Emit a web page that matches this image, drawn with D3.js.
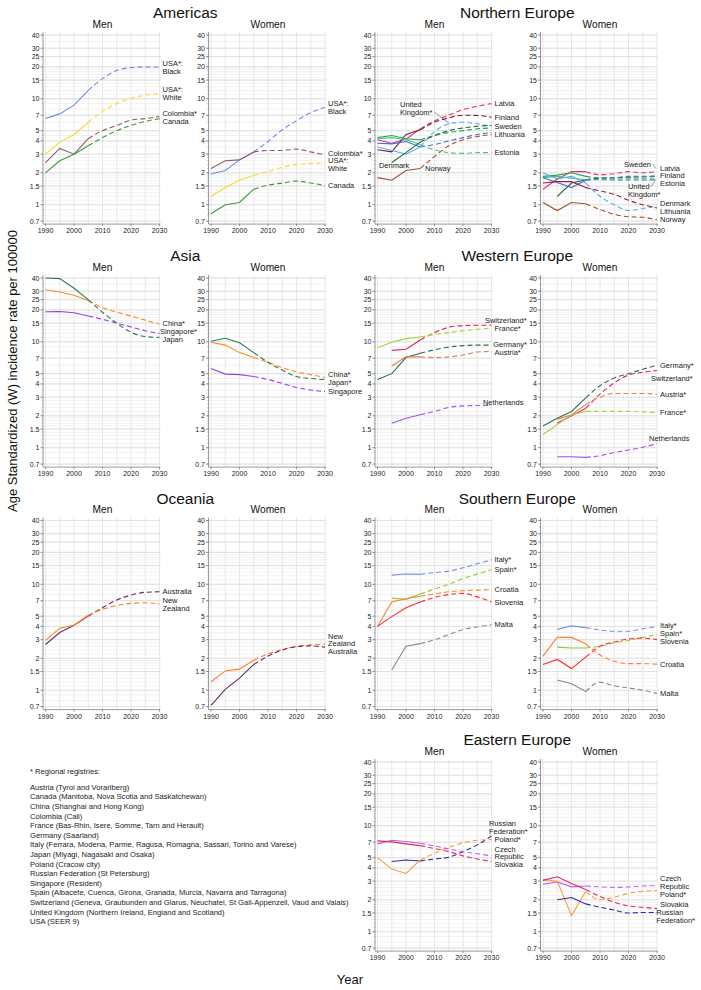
<!DOCTYPE html>
<html>
<head>
<meta charset="utf-8">
<script src="https://cdn.jsdelivr.net/npm/d3@7"></script>
<style>
  body { margin: 0; background: #fff; }
  svg { font-family: "Liberation Sans", Arial, sans-serif; }
</style>
</head>
<body>
<svg id="chart" width="701" height="990"></svg>
<script>
// ---- data ----
const years = [1990, 1995, 2000, 2005, 2010, 2015, 2020, 2025, 2030];
const xTicks = [1990, 2000, 2010, 2020, 2030];
const yTicks = [0.7, 1, 1.5, 2, 3, 4, 5, 7, 10, 15, 20, 25, 30, 40];
const observedUntil = 2005;

const americasMen = [
  { key: "usaBlack", label: "USA*:\nBlack", values: [6.5, 7.2, 8.7, 12, 15.5, 18.5, 19.7, 20, 19.8] },
  { key: "usaWhite", label: "USA*:\nWhite", values: [3.0, 3.9, 4.6, 6.0, 7.6, 9.0, 10.1, 10.8, 11.2] },
  { key: "colombia", label: "Colombia*", values: [2.5, 3.4, 3.0, 4.2, 5.0, 5.6, 6.3, 6.5, 6.8] },
  { key: "canada", label: "Canada", values: [2.0, 2.6, 3.0, 3.6, 4.3, 5.0, 5.6, 6.1, 6.5] }
];
const americasWomen = [
  { key: "usaBlack", label: "USA*:\nBlack", values: [1.95, 2.1, 2.65, 3.15, 3.95, 5.1, 6.2, 7.4, 8.3] },
  { key: "colombia", label: "Colombia*", values: [2.2, 2.6, 2.65, 3.15, 3.25, 3.25, 3.35, 3.15, 2.95] },
  { key: "usaWhite", label: "USA*:\nWhite", values: [1.2, 1.45, 1.7, 1.9, 2.05, 2.25, 2.4, 2.45, 2.5] },
  { key: "canada", label: "Canada", values: [0.82, 1.0, 1.05, 1.4, 1.53, 1.6, 1.67, 1.6, 1.52] }
];

const northernMen = [
  { key: "latvia", label: "Latvia", values: [4.1, 3.8, 4.15, 5.2, 6.2, 7.0, 7.9, 8.5, 9.0] },
  { key: "finland", label: "Finland", values: [3.3, 3.15, 4.6, 5.1, 6.0, 6.6, 7.0, 6.95, 6.7] },
  { key: "sweden", label: "Sweden", values: [4.3, 4.5, 4.2, 4.1, 4.5, 4.8, 5.0, 5.2, 5.3] },
  { key: "lithuania", label: "Lithuania", values: [3.8, 3.75, 3.95, 3.5, 3.7, 4.0, 4.3, 4.6, 4.8] },
  { key: "estonia", label: "Estonia", values: [4.2, 4.3, 4.1, 3.7, 3.3, 3.1, 3.05, 3.1, 3.1] },
  { key: "uk", label: "United\nKingdom*", values: [3.5, 3.25, 3.0, 3.5, 4.9, 5.8, 6.0, 5.8, 5.5] },
  { key: "denmark", label: "Denmark", values: [null, 2.5, 3.1, 3.9, 4.5, 5.0, 5.3, 5.5, 5.6] },
  { key: "norway", label: "Norway", values: [1.8, 1.7, 2.1, 2.2, 2.85, 3.6, 4.1, 4.4, 4.6] }
];
const northernWomen = [
  { key: "latvia", label: "Latvia", values: [1.4, 1.75, 2.05, 2.05, 1.92, 1.96, 2.05, 2.0, 2.07] },
  { key: "finland", label: "Finland", values: [null, 1.2, 1.6, 1.72, 1.78, 1.8, 1.82, 1.83, 1.85] },
  { key: "estonia", label: "Estonia", values: [1.8, 1.85, 1.78, 1.72, 1.72, 1.7, 1.7, 1.7, 1.72] },
  { key: "sweden", label: "Sweden", values: [1.85, 1.9, 2.0, 1.85, 1.8, 1.8, 1.85, 1.85, 1.88] },
  { key: "uk", label: "United\nKingdom*", values: [1.8, 1.62, 1.45, 1.7, 1.75, 1.75, 1.75, 1.75, 1.75] },
  { key: "denmark", label: "Denmark", values: [2.0, 1.75, 1.85, 1.6, 1.2, 1.0, 0.88, 0.92, 0.97] },
  { key: "lithuania", label: "Lithuania", values: [1.6, 1.65, 1.65, 1.45, 1.35, 1.25, 1.1, 1.0, 0.93] },
  { key: "norway", label: "Norway", values: [1.05, 0.88, 1.05, 1.02, 0.9, 0.81, 0.77, 0.76, 0.72] }
];

const asiaMen = [
  { key: "china", label: "China*", values: [31, 29.5, 27.5, 24.5, 21, 19, 17.5, 16, 14.7] },
  { key: "singapore", label: "Singapore*", values: [19.2, 19.3, 18.8, 17.5, 16.3, 15, 13.8, 12.7, 12] },
  { key: "japan", label: "Japan", values: [40, 39.5, 32, 25, 19, 15, 12.3, 11.2, 11.0] }
];
const asiaWomen = [
  { key: "china", label: "China*", values: [9.9, 9.3, 7.9, 7.1, 6.4, 5.7, 5.2, 4.9, 4.6] },
  { key: "japan", label: "Japan*", values: [10.1, 10.8, 9.8, 7.9, 6.4, 5.4, 4.7, 4.5, 4.4] },
  { key: "singapore", label: "Singapore", values: [5.6, 4.95, 4.9, 4.7, 4.4, 4.05, 3.7, 3.5, 3.4] }
];

const westernMen = [
  { key: "switzerland", label: "Switzerland*", values: [null, 8.3, 8.5, 10.4, 12.2, 13.7, 14.2, 14.3, 14.3] },
  { key: "france", label: "France*", values: [8.8, 9.9, 10.7, 11.1, 11.7, 12.2, 12.7, 13.1, 13.5] },
  { key: "germany", label: "Germany*", values: [4.4, 5.0, 7.1, 7.8, 8.4, 8.9, 9.2, 9.3, 9.3] },
  { key: "austria", label: "Austria*", values: [null, 5.9, 7.2, 7.2, 7.1, 7.2, 7.5, 8.0, 8.1] },
  { key: "netherlands", label: "Netherlands", values: [null, 1.7, 1.9, 2.05, 2.2, 2.4, 2.48, 2.5, 2.5] }
];
const westernWomen = [
  { key: "germany", label: "Germany*", values: [1.6, 1.9, 2.2, 2.95, 3.85, 4.55, 5.0, 5.5, 6.0] },
  { key: "switzerland", label: "Switzerland*", values: [null, 1.7, 2.0, 2.35, 3.2, 4.1, 4.85, 5.15, 5.35] },
  { key: "austria", label: "Austria*", values: [null, 1.85, 2.05, 2.55, 3.0, 3.25, 3.25, 3.25, 3.2] },
  { key: "france", label: "France*", values: [1.33, 1.65, 2.05, 2.2, 2.2, 2.2, 2.2, 2.18, 2.15] },
  { key: "netherlands", label: "Netherlands", values: [null, 0.82, 0.82, 0.81, 0.84, 0.9, 0.95, 1.01, 1.09] }
];

const oceaniaMen = [
  { key: "australia", label: "Australia", values: [2.7, 3.5, 4.1, 5.0, 6.0, 7.1, 7.9, 8.4, 8.5] },
  { key: "newZealand", label: "New\nZealand", values: [2.95, 3.85, 4.1, 5.1, 5.8, 6.3, 6.6, 6.7, 6.5] }
];
const oceaniaWomen = [
  { key: "newZealand", label: "New\nZealand", values: [1.2, 1.52, 1.58, 1.92, 2.2, 2.42, 2.58, 2.68, 2.72] },
  { key: "australia", label: "Australia", values: [0.72, 1.02, 1.3, 1.75, 2.1, 2.4, 2.58, 2.62, 2.55] }
];

const southernMen = [
  { key: "italy", label: "Italy*", values: [null, 12.2, 12.5, 12.4, 12.9, 13.3, 14.3, 15.6, 17.0] },
  { key: "spain", label: "Spain*", values: [null, 7.4, 7.2, 8.1, 9.0, 10, 11.3, 12.5, 13.7] },
  { key: "croatia", label: "Croatia", values: [4.0, 6.8, 7.3, 7.7, 8.1, 8.5, 8.7, 8.8, 8.9] },
  { key: "slovenia", label: "Slovenia", values: [4.0, 4.95, 6.0, 6.8, 7.5, 8.0, 8.2, 7.6, 6.8] },
  { key: "malta", label: "Malta", values: [null, 1.55, 2.6, 2.75, 3.0, 3.35, 3.75, 3.95, 4.15] }
];
const southernWomen = [
  { key: "italy", label: "Italy*", values: [null, 3.75, 4.05, 3.9, 3.7, 3.6, 3.6, 3.8, 4.0] },
  { key: "spain", label: "Spain*", values: [null, 2.55, 2.5, 2.5, 2.6, 2.8, 2.95, 3.15, 3.35] },
  { key: "slovenia", label: "Slovenia", values: [1.75, 1.95, 1.6, 2.05, 2.6, 2.85, 3.05, 3.1, 3.0] },
  { key: "croatia", label: "Croatia", values: [2.1, 3.15, 3.15, 2.75, 2.15, 1.88, 1.78, 1.78, 1.76] },
  { key: "malta", label: "Malta", values: [null, 1.25, 1.15, 0.97, 1.19, 1.1, 1.05, 1.0, 0.93] }
];

const easternMen = [
  { key: "russia", label: "Russian\nFederation*", values: [null, 4.6, 4.75, 4.65, 4.85, 5.05, 5.7, 6.6, 8.0] },
  { key: "poland", label: "Poland*", values: [5.0, 3.9, 3.55, 4.75, 5.5, 6.25, 6.9, 7.3, 7.4] },
  { key: "czech", label: "Czech\nRepublic", values: [6.75, 7.3, 7.1, 6.85, 6.45, 6.05, 5.7, 5.45, 5.2] },
  { key: "slovakia", label: "Slovakia", values: [7.2, 7.05, 6.75, 6.5, 6.1, 5.7, 5.2, 4.85, 4.6] }
];
const easternWomen = [
  { key: "czech", label: "Czech\nRepublic", values: [2.8, 2.95, 2.65, 2.7, 2.65, 2.62, 2.65, 2.7, 2.72] },
  { key: "poland", label: "Poland*", values: [3.1, 3.0, 1.42, 2.4, 2.0, 2.12, 2.3, 2.4, 2.45] },
  { key: "slovakia", label: "Slovakia", values: [3.05, 3.3, 2.85, 2.5, 2.15, 1.9, 1.75, 1.7, 1.65] },
  { key: "russia", label: "Russian\nFederation*", values: [null, 2.0, 2.1, 1.83, 1.7, 1.6, 1.5, 1.52, 1.52] }
];

const footnote = [
  "Austria (Tyrol and Vorarlberg)",
  "Canada (Manitoba, Nova Scotia and Saskatchewan)",
  "China (Shanghai and Hong Kong)",
  "Colombia (Cali)",
  "France (Bas-Rhin, Isere, Somme, Tarn and Herault)",
  "Germany (Saarland)",
  "Italy (Ferrara, Modena, Parme, Ragusa, Romagna, Sassari, Torino and Varese)",
  "Japan (Miyagi, Nagasaki and Osaka)",
  "Poland (Cracow city)",
  "Russian Federation (St Petersburg)",
  "Singapore (Resident)",
  "Spain (Albacete, Cuenca, Girona, Granada, Murcia, Navarra and Tarragona)",
  "Switzerland (Geneva, Graubunden and Glarus, Neuchatel, St Gall-Appenzell, Vaud and Valais)",
  "United Kingdom (Northern Ireland, England and Scotland)",
  "USA (SEER 9)"
];

// ---- styles ----
const colors = {
  usaBlack: "#7088ee", usaWhite: "#f5dc2c", colombia: "#8e5c68", canada: "#3c983c",
  latvia: "#e8336d", finland: "#6e2040", sweden: "#2ca25f", lithuania: "#3a6fd8",
  estonia: "#4cc47c", uk: "#58aef0", denmark: "#1f6b2c", norway: "#a0522d",
  china: "#ff8a1e", singapore: "#9b3cf0", japan: "#2a7a55",
  switzerland: "#e0245e", france: "#a8d03a", germany: "#2a7050", austria: "#e87a5a", netherlands: "#a050f0",
  australia: "#6a2a6a", newZealand: "#ff8020",
  italy: "#7a90e8", spain: "#90c83a", croatia: "#ff8030", slovenia: "#ff2a2a", malta: "#8a8a8a",
  russia: "#2a2aa8", poland: "#ff9a3c", czech: "#c060f0", slovakia: "#e02a5a"
};
// panel specific colours where the reference differs
const panelColors = {
  "Northern Europe:Women": { denmark: "#58aef0", lithuania: "#a01c40", finland: "#1f5a3a", uk: "#3a6fd8" }
};

// labels placed away from the line end (year / value of text block)
const labelSpots = {
  "Northern Europe:Men:uk": { year: 1997.9, value: 8.18, leader: { line: 1, to: [2015.3, 5.8] } },
  "Northern Europe:Men:denmark": { year: 1990.5, value: 2.37 },
  "Northern Europe:Men:norway": { year: 2006.7, value: 2.22 },
  "Northern Europe:Women:sweden": { year: 2018.4, value: 2.42, leader: { line: 0, to: [2029.6, 2.2] } },
  "Northern Europe:Women:uk": { year: 2019.8, value: 1.36, leader: { line: 0, to: [2029.6, 1.73] } },
  "Western Europe:Men:switzerland": { year: 2027.7, value: 16.05 },
  "Western Europe:Men:netherlands": { year: 2027.0, value: 2.7 },
  "Western Europe:Women:switzerland": { year: 2027.9, value: 4.55 },
  "Western Europe:Women:netherlands": { year: 2027.2, value: 1.23 },
  "Eastern Europe:Men:russia": { year: 2029.1, value: 9.73 }
};

const panels = [
  { region: "Americas", row: 0, col: 0, men: americasMen, women: americasWomen },
  { region: "Northern Europe", row: 0, col: 1, men: northernMen, women: northernWomen },
  { region: "Asia", row: 1, col: 0, men: asiaMen, women: asiaWomen },
  { region: "Western Europe", row: 1, col: 1, men: westernMen, women: westernWomen },
  { region: "Oceania", row: 2, col: 0, men: oceaniaMen, women: oceaniaWomen },
  { region: "Southern Europe", row: 2, col: 1, men: southernMen, women: southernWomen },
  { region: "Eastern Europe", row: 3, col: 1, men: easternMen, women: easternWomen }
];

// ---- layout ----
const rowTop = [35, 278, 520.5, 762];
const colLeft = [45.5, 211, 377.5, 543];
const colLimit = [197, 363, 527, 695];
const plotW = 114;
const plotH = 186.1;
const lblFont = 7.5, lblLine = 7.8;

const gridMinor = [].concat(
  d3.range(0.7, 1.99, 0.1), d3.range(2, 2.99, 0.2), d3.range(3, 4.99, 0.5),
  d3.range(5, 9.99, 1), d3.range(10, 19.99, 1), d3.range(20, 40.01, 5)
);
const gridYears = d3.range(1990, 2031, 5);

const svg = d3.select("#chart");

function spread(items) {
  items.sort((a, b) => a.y - b.y);
  for (let it = 0; it < 100; it++) {
    let moved = false;
    for (let i = 1; i < items.length; i++) {
      const a = items[i - 1], b = items[i];
      const need = (a.h + b.h) / 2 - (b.y - a.y);
      if (need > 0.01) { a.y -= need / 2; b.y += need / 2; moved = true; }
    }
    if (!moved) break;
  }
}

function drawPanel(region, sex, series, row, col) {
  const left = colLeft[col], top = rowTop[row];
  const x = d3.scaleLinear().domain([1990, 2030]).range([left, left + plotW]);
  const y = d3.scaleLog().domain([0.7, 40]).range([top + plotH, top]);
  const yTopEdge = top - 3, yBottom = top + plotH + 3;
  const axisX = left - 2.5, rightX = left + plotW + 1;
  const override = panelColors[region + ":" + sex] || {};
  const colorOf = k => override[k] || colors[k];

  const g = svg.append("g");

  // grid
  g.selectAll(".gminor").data(gridMinor).enter().append("line")
    .attr("x1", axisX).attr("x2", rightX)
    .attr("y1", d => y(d)).attr("y2", d => y(d))
    .attr("stroke", "#ededed").attr("stroke-width", 0.7);
  g.selectAll(".gmajor").data(yTicks).enter().append("line")
    .attr("x1", axisX).attr("x2", rightX)
    .attr("y1", d => y(d)).attr("y2", d => y(d))
    .attr("stroke", "#dadada").attr("stroke-width", 0.8);
  g.selectAll(".gx").data(gridYears).enter().append("line")
    .attr("x1", d => x(d)).attr("x2", d => x(d))
    .attr("y1", yTopEdge).attr("y2", yBottom)
    .attr("stroke", "#e2e2e2").attr("stroke-width", 0.8);

  // axes
  g.append("line").attr("x1", axisX).attr("x2", axisX).attr("y1", yTopEdge).attr("y2", yBottom)
    .attr("stroke", "#9a9a9a").attr("stroke-width", 1);
  g.append("line").attr("x1", axisX).attr("x2", rightX).attr("y1", yBottom).attr("y2", yBottom)
    .attr("stroke", "#9a9a9a").attr("stroke-width", 1);
  g.selectAll(".ytm").data(gridMinor).enter().append("line")
    .attr("x1", axisX - 1.3).attr("x2", axisX)
    .attr("y1", d => y(d)).attr("y2", d => y(d))
    .attr("stroke", "#999").attr("stroke-width", 0.6);
  g.selectAll(".ytk").data(yTicks).enter().append("line")
    .attr("x1", axisX - 2.5).attr("x2", axisX)
    .attr("y1", d => y(d)).attr("y2", d => y(d))
    .attr("stroke", "#777").attr("stroke-width", 0.8);
  g.selectAll(".ytl").data(yTicks).enter().append("text")
    .attr("x", axisX - 3.5).attr("y", d => y(d) + 2.5)
    .attr("text-anchor", "end").attr("font-size", 7).attr("fill", "#222")
    .text(d => d3.format("~g")(d));
  g.selectAll(".xtk").data(xTicks).enter().append("line")
    .attr("x1", d => x(d)).attr("x2", d => x(d))
    .attr("y1", yBottom).attr("y2", yBottom + 2)
    .attr("stroke", "#777").attr("stroke-width", 0.8);
  g.selectAll(".xtl").data(xTicks).enter().append("text")
    .attr("x", d => x(d)).attr("y", yBottom + 9)
    .attr("text-anchor", "middle").attr("font-size", 7).attr("fill", "#222")
    .text(d => d);

  // subtitle
  g.append("text").attr("x", left + plotW / 2).attr("y", top - 11 + 3.6)
    .attr("text-anchor", "middle").attr("font-size", 10.2).attr("fill", "#111").text(sex);

  // lines
  const solid = d3.line().defined(d => d.v != null).x(d => x(d.year)).y(d => y(d.v));
  const dashed = d3.line().defined(d => d.v != null).x(d => x(d.year)).y(d => y(d.v))
    .curve(d3.curveMonotoneX);
  series.forEach(s => {
    const pts = years.map((yr, i) => ({ year: yr, v: s.values[i] }));
    g.append("path").attr("d", solid(pts.filter(p => p.year <= observedUntil)))
      .attr("fill", "none").attr("stroke", colorOf(s.key)).attr("stroke-width", 1.1);
    g.append("path").attr("d", dashed(pts.filter(p => p.year >= observedUntil)))
      .attr("fill", "none").attr("stroke", colorOf(s.key)).attr("stroke-width", 1.1)
      .attr("stroke-dasharray", "5,3");
  });

  // labels
  const free = [], all = [];
  series.forEach(s => {
    const lines = s.label.split("\n");
    const t = g.append("text").attr("font-size", lblFont).attr("fill", "#222");
    lines.forEach(l => t.append("tspan").text(l));
    const widths = t.selectAll("tspan").nodes().map(n => n.getComputedTextLength());
    const w = d3.max(widths);
    const item = { t, lines, widths, h: lines.length * lblLine };
    const spot = labelSpots[region + ":" + sex + ":" + s.key];
    if (spot) {
      item.x = x(spot.year); item.y = y(spot.value); item.spot = spot;
    } else {
      item.x = Math.min(x(2030) + 3, colLimit[col] - w);
      item.y = y(s.values[s.values.length - 1]);
      free.push(item);
    }
    all.push(item);
  });
  spread(free);
  all.forEach(item => {
    const n = item.lines.length;
    const lineY = i => item.y - (n - 1) * lblLine / 2 + i * lblLine;
    item.t.selectAll("tspan")
      .attr("x", item.x)
      .attr("y", (d, i) => lineY(i) + lblFont * 0.35);
    if (item.spot && item.spot.leader) {
      const L = item.spot.leader;
      g.append("line")
        .attr("x1", item.x + item.widths[L.line] + 1.5).attr("y1", lineY(L.line))
        .attr("x2", x(L.to[0])).attr("y2", y(L.to[1]))
        .attr("stroke", "#555").attr("stroke-width", 0.6);
    }
  });
}

panels.forEach(p => {
  const cMen = p.col * 2, cWomen = p.col * 2 + 1;
  drawPanel(p.region, "Men", p.men, p.row, cMen);
  drawPanel(p.region, "Women", p.women, p.row, cWomen);
  const cx = (colLeft[cMen] + colLeft[cWomen]) / 2 + plotW / 2;
  svg.append("text").attr("x", cx).attr("y", rowTop[p.row] - 22 + 5.4)
    .attr("text-anchor", "middle").attr("font-size", 15.5).attr("fill", "#111")
    .text(p.region);
});

// axis titles
svg.append("text")
  .attr("transform", "translate(16.5,371) rotate(-90)")
  .attr("text-anchor", "middle").attr("font-size", 13).attr("fill", "#111")
  .text("Age Standardized (W) incidence rate per 100000");
svg.append("text").attr("x", 350).attr("y", 983.5)
  .attr("text-anchor", "middle").attr("font-size", 13).attr("fill", "#111")
  .text("Year");

// footnote
const fn = svg.append("g").attr("font-size", 7.6).attr("fill", "#222");
fn.append("text").attr("x", 30).attr("y", 773.7).text("* Regional registries:");
fn.selectAll(".fl").data(footnote).enter().append("text")
  .attr("x", 30).attr("y", (d, i) => 789.7 + i * 9.6)
  .text(d => d);
</script>
</body>
</html>
